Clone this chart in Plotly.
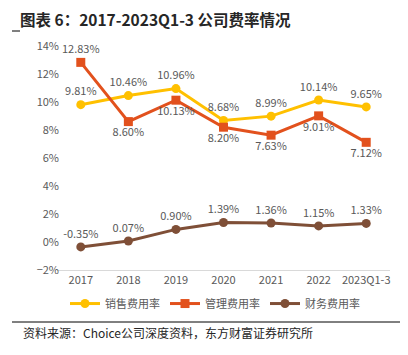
import plotly.graph_objects as go

categories = ["2017", "2018", "2019", "2020", "2021", "2022", "2023Q1-3"]
sales_rate = [9.81, 10.46, 10.96, 8.68, 8.99, 10.14, 9.65]
admin_rate = [12.83, 8.60, 10.13, 8.20, 7.63, 9.01, 7.12]
fin_rate = [-0.35, 0.07, 0.90, 1.39, 1.36, 1.15, 1.33]
admin_pos = ["top center", "bottom center", "bottom center", "bottom center",
             "bottom center", "bottom center", "bottom center"]

FONT = "Noto Sans CJK SC"
LBL = dict(family=FONT, size=11, color="#595959")

# page body has an 8px margin; figure is sized/offset to compensate
W, H = 400, 347
L, R, T, B = 49, 18, 38, 85
PW, PH = W - L - R, H - T - B

def px_x(page_x):
    return (page_x - 8 - L) / PW

def px_y(page_y):
    return (H - B - (page_y - 8)) / PH

fig = go.Figure()
fig.add_trace(go.Scatter(
    x=categories, y=sales_rate, name="销售费用率", mode="lines+markers+text",
    line=dict(color="#FFC000", width=3), marker=dict(symbol="circle", size=9),
    text=[f"{v:.2f}%" for v in sales_rate], textposition="top center",
    textfont=LBL, cliponaxis=False))
fig.add_trace(go.Scatter(
    x=categories, y=admin_rate, name="管理费用率", mode="lines+markers+text",
    line=dict(color="#E2511D", width=3), marker=dict(symbol="square", size=9),
    text=[f"{v:.2f}%" for v in admin_rate], textposition=admin_pos,
    textfont=LBL, cliponaxis=False))
fig.add_trace(go.Scatter(
    x=categories, y=fin_rate, name="财务费用率", mode="lines+markers+text",
    line=dict(color="#7F4F37", width=3), marker=dict(symbol="circle", size=9),
    text=[f"{v:.2f}%" for v in fin_rate], textposition="top center",
    textfont=LBL, cliponaxis=False))

fig.update_layout(
    width=W, height=H,
    margin=dict(l=L, r=R, t=T, b=B),
    paper_bgcolor="white", plot_bgcolor="white",
    font=dict(family=FONT, size=11, color="#595959"),
    showlegend=True,
    legend=dict(orientation="h", x=px_x(215), xanchor="center", y=-0.085, yanchor="top",
                font=dict(family=FONT, size=11, color="#595959"),
                itemwidth=30, tracegroupgap=0),
    xaxis=dict(type="category", showgrid=False, showline=True, linecolor="#D9D9D9",
               linewidth=1, ticks="", tickfont=dict(size=11, color="#595959"),
               range=[-0.5, 6.5]),
    yaxis=dict(range=[-2, 14], dtick=2, ticksuffix="%", showgrid=False,
               zeroline=False, showline=False, tickfont=dict(size=11, color="#595959"),
               ticklabelstandoff=-3),
    annotations=[
        dict(text="<b>图表 6：2017-2023Q1-3 公司费率情况</b>", xref="paper", yref="paper",
             x=px_x(18), y=px_y(19), xanchor="left", yanchor="middle",
             showarrow=False, font=dict(family=FONT, size=15.5, color="#262626")),
        dict(text="资料来源：Choice公司深度资料，东方财富证券研究所", xref="paper", yref="paper",
             x=px_x(21), y=px_y(332), xanchor="left", yanchor="middle",
             showarrow=False, font=dict(family=FONT, size=12, color="#262626")),
    ],
    shapes=[
        dict(type="line", xref="paper", yref="paper", x0=px_x(12), x1=px_x(409),
             y0=px_y(322), y1=px_y(322), line=dict(color="#000000", width=1)),
        dict(type="line", xref="paper", yref="paper", x0=px_x(12), x1=px_x(20),
             y0=px_y(31), y1=px_y(31), line=dict(color="#000000", width=1)),
    ],
)

fig.write_html("out.html")
